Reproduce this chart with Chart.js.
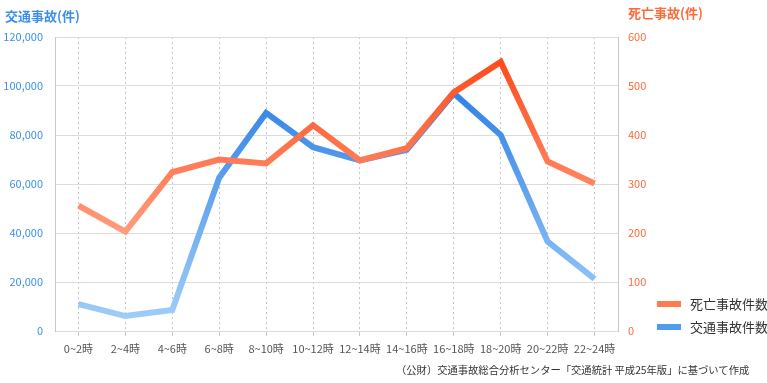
<!DOCTYPE html>
<html>
<head>
<meta charset="utf-8">
<script src="https://cdn.jsdelivr.net/npm/chart.js@4"></script>
<style>
  html, body { margin: 0; padding: 0; background: #fff; }
  body { width: 767px; height: 383px; position: relative; overflow: hidden;
         font-family: "Noto Sans CJK JP", "Noto Sans", sans-serif; }
  #wrap { position: absolute; left: 0; top: 0; width: 767px; height: 383px; }
  .ttl { position: absolute; font-size: 13px; font-weight: bold; white-space: nowrap; }
  .legend { position: absolute; left: 657px; font-size: 13px; color: #333; white-space: nowrap; }
  .legend i { display: inline-block; width: 24px; height: 6px; vertical-align: middle; margin-right: 9px; position: relative; top: -1px; }
  .src { position: absolute; left: 396px; top: 362px; font-size: 10.3px; color: #333; white-space: nowrap; }
</style>
</head>
<body>
<div id="wrap"><canvas id="chart" width="767" height="383"></canvas></div>
<div class="ttl" style="left:5px;top:6px;color:#3d8fe8;">交通事故(件)</div>
<div class="ttl" style="left:628px;top:3px;color:#ff6a3a;">死亡事故(件)</div>
<div class="legend" style="top:294px;"><i style="background:#ff7a50"></i>死亡事故件数</div>
<div class="legend" style="top:317px;"><i style="background:#4f9bef"></i>交通事故件数</div>
<div class="src">（公財）交通事故総合分析センター「交通統計 平成25年版」に基づいて作成</div>
<script>
// 時間帯
const hours = ['0~2時', '2~4時', '4~6時', '6~8時', '8~10時', '10~12時', '12~14時',
               '14~16時', '16~18時', '18~20時', '20~22時', '22~24時'];
// 交通事故件数 (左軸)
const accidents = [11000, 6100, 8600, 62600, 89000, 75000, 69600, 74000, 97000, 80000, 36500, 21300];
// 死亡事故件数 (右軸)
const fatalities = [256, 203, 324, 350, 342, 420, 348, 373, 487, 549, 346, 301];

// 上が濃く下が薄い縦グラデーション
function vGrad(top, bottom) {
    return function(ctx) {
        const area = ctx.chart.chartArea;
        if (!area) return top;
        const g = ctx.chart.ctx.createLinearGradient(0, area.top, 0, area.bottom);
        g.addColorStop(0, top);
        g.addColorStop(1, bottom);
        return g;
    };
}

const tickFont = { family: '"Noto Sans CJK JP", sans-serif', size: 11 };

new Chart(document.getElementById('chart'), {
    type: 'line',
    data: {
        labels: hours,
        datasets: [
            {
                label: '死亡事故件数',
                data: fatalities,
                yAxisID: 'y2',
                borderColor: vGrad('#ff4010', '#ffcbb2'),
                borderWidth: 6,
                pointRadius: 0,
                tension: 0,
                fill: false
            },
            {
                label: '交通事故件数',
                data: accidents,
                yAxisID: 'y',
                borderColor: vGrad('#1570e2', '#a6d1fa'),
                borderWidth: 6,
                pointRadius: 0,
                tension: 0,
                fill: false
            }
        ]
    },
    options: {
        responsive: false,
        animation: false,
        layout: { padding: { left: 0, right: 119, top: 37, bottom: 22 } },
        plugins: { legend: { display: false }, tooltip: { enabled: false } },
        scales: {
            x: {
                offset: true,
                afterFit: s => { s.height = 30; },
                grid: { offset: false, color: '#c4c4c4', tickLength: 5,
                        tickBorderDash: [], tickColor: '#c8c8c8' },
                border: { display: false, dash: [2, 3] },
                ticks: { color: '#555', font: tickFont, padding: 6, maxRotation: 0, autoSkip: false }
            },
            y: {
                position: 'left',
                min: 0, max: 120000,
                afterFit: s => { s.width = 55; },
                grid: { color: '#dcdcdc', drawTicks: false },
                border: { color: '#c8c8c8' },
                ticks: {
                    stepSize: 20000, color: '#3d8fe8', font: tickFont, padding: 12,
                    callback: v => v.toLocaleString('en-US')
                }
            },
            y2: {
                position: 'right',
                min: 0, max: 600,
                afterFit: s => { s.width = 30; },
                grid: { drawOnChartArea: false, drawTicks: false },
                border: { color: '#c8c8c8' },
                ticks: { stepSize: 100, color: '#ff6a3a', font: tickFont, padding: 10 }
            }
        }
    }
});
</script>
</body>
</html>
